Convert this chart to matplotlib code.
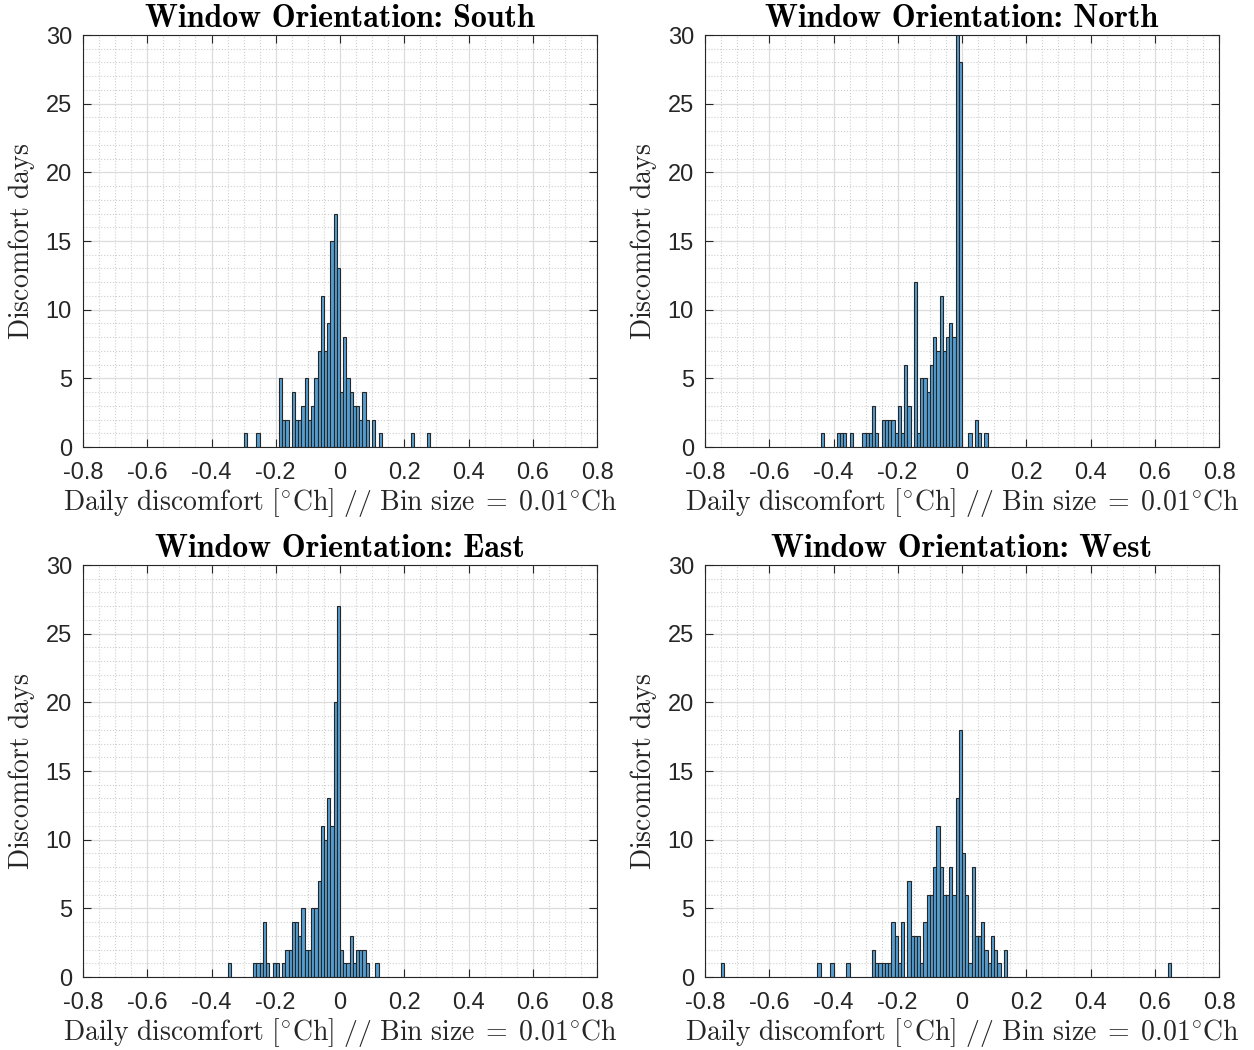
import matplotlib
matplotlib.use("Agg")
import matplotlib.pyplot as plt
import numpy as np
from matplotlib.ticker import MultipleLocator, FuncFormatter

BIN = 0.01

# histogram bins (left edge, in units of BIN) and counts, nonzero bins only
south_bins = [-30, -26, -19, -18, -17, -15, -14, -13, -12, -11, -10, -9, -8, -7, -6, -5, -4,
              -3, -2, -1, 0, 1, 2, 3, 4, 5, 6, 7, 8, 10, 12, 22, 27]
south_counts = [1, 1, 5, 2, 2, 4, 2, 2, 3, 5, 2, 3, 5, 7, 11, 7, 9,
                15, 17, 13, 4, 8, 5, 4, 3, 3, 2, 4, 2, 2, 1, 1, 1]

north_bins = [-44, -39, -38, -37, -35, -31, -30, -29, -28, -27, -25, -24, -23, -22, -21, -20,
              -19, -18, -17, -15, -14, -13, -12, -11, -10, -9, -8, -7, -6, -5, -4, -3, -2, -1,
              2, 4, 5, 7]
north_counts = [1, 1, 1, 1, 1, 1, 1, 1, 3, 1, 2, 2, 2, 2, 1, 3,
                1, 6, 3, 12, 1, 5, 5, 4, 6, 8, 7, 11, 7, 8, 9, 8, 30, 28,
                1, 2, 1, 1]

east_bins = [-35, -27, -26, -25, -24, -23, -21, -20, -18, -17, -16, -15, -14, -13, -12, -11,
             -10, -9, -8, -7, -6, -5, -4, -3, -2, -1, 0, 1, 2, 3, 4, 5, 6, 7, 8, 11]
east_counts = [1, 1, 1, 1, 4, 1, 1, 1, 1, 2, 2, 4, 4, 3, 5, 2,
               2, 5, 5, 7, 11, 10, 13, 11, 20, 27, 2, 1, 1, 3, 1, 2, 2, 2, 1, 1]

west_bins = [-75, -45, -41, -36, -28, -27, -26, -25, -24, -23, -22, -21, -20, -19, -17, -16,
             -15, -14, -13, -12, -11, -10, -9, -8, -7, -6, -5, -4, -3, -2, -1, 0, 1, 2, 3,
             4, 5, 6, 7, 8, 9, 10, 11, 13, 64]
west_counts = [1, 1, 1, 1, 2, 1, 1, 1, 1, 1, 4, 3, 1, 4, 7, 3,
               3, 3, 1, 4, 6, 6, 8, 11, 8, 6, 6, 8, 6, 13, 18, 9, 6, 1, 8,
               3, 3, 4, 2, 1, 3, 2, 1, 2, 1]

orientations = ["South", "North", "East", "West"]

plt.rcParams["mathtext.fontset"] = "cm"
plt.rcParams["axes.unicode_minus"] = False
plt.rcParams["font.family"] = ["Liberation Sans", "DejaVu Sans"]

FACE = (0.33, 0.62, 0.82)
AX_COLOR = (0.15, 0.15, 0.15)

fig = plt.figure(figsize=(12.54, 10.5), dpi=100)
positions = [
    (83, 35), (705, 35),
    (83, 565), (705, 565),
]
W, H = 514, 412

data = [
    (south_bins, south_counts),
    (north_bins, north_counts),
    (east_bins, east_counts),
    (west_bins, west_counts),
]

xlabel = (r"$\mathrm{Daily\ discomfort\ [^{\circ}Ch]\ //\ Bin\ size\;{=}\;0.01^{\circ}Ch}$")

for (px, py), name, (bins, counts) in zip(positions, orientations, data):
    ax = fig.add_axes([px / 1254, 1 - (py + H) / 1050, W / 1254, H / 1050])
    ax.set_axisbelow(True)
    ax.bar(np.array(bins) * BIN, counts, width=BIN, align="edge",
           color=FACE, edgecolor=AX_COLOR, linewidth=0.8)

    ax.set_xlim(-0.8, 0.8)
    ax.set_ylim(0, 30)
    ax.xaxis.set_major_locator(MultipleLocator(0.2))
    ax.xaxis.set_minor_locator(MultipleLocator(0.05))
    ax.yaxis.set_major_locator(MultipleLocator(5))
    ax.yaxis.set_minor_locator(MultipleLocator(1))
    ax.xaxis.set_major_formatter(FuncFormatter(lambda v, p: "%g" % round(v, 2)))

    ax.grid(which="major", color="#dcdcdc", linestyle="-", linewidth=0.9)
    ax.grid(which="minor", color="#cfcfcf", linestyle=":", linewidth=0.8)

    ax.tick_params(which="major", direction="in", top=True, right=True, length=6,
                   width=0.8, color=AX_COLOR, labelsize=17, labelcolor=AX_COLOR)
    ax.tick_params(axis="x", which="major", pad=11)
    ax.tick_params(axis="y", which="major", pad=8)
    ax.tick_params(which="minor", length=0, top=True, right=True)
    for s in ax.spines.values():
        s.set_color(AX_COLOR)
        s.set_linewidth(0.8)

    ax.set_title("Window Orientation: %s" % name, fontfamily="cmb10", fontsize=23,
                 pad=6, color="black")
    ax.set_xlabel(xlabel, fontsize=20, labelpad=1, color=AX_COLOR)
    ax.set_ylabel(r"$\mathrm{Discomfort\ days}$", fontsize=20, labelpad=6, color=AX_COLOR)

fig.savefig("out.png", dpi=100)
